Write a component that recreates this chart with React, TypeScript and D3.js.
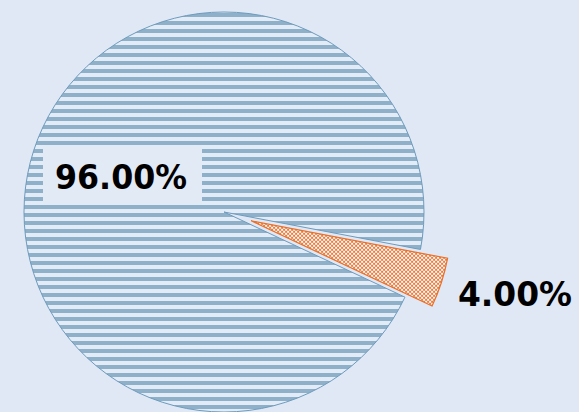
import React from "react";
import * as d3 from "d3";

const categories = ["A", "B"];
const values = [4, 96];
const labels = ["4.00%", "96.00%"];

const W = 579;
const H = 412;
const cx = 224;
const cy = 212;
const R = 200;
const START = (100.8 * Math.PI) / 180;
const EXPLODE = 28.5;

export default function App() {
  const data = categories.map((c, i) => ({ c, v: values[i], label: labels[i] }));
  const pie = d3
    .pie<any>()
    .value((d) => d.v)
    .sort(null)
    .startAngle(START)
    .endAngle(START + 2 * Math.PI);
  const arcs = pie(data);
  const arc = d3.arc<any>().innerRadius(0).outerRadius(R);

  const orange = arcs[0];
  const blue = arcs[1];
  const mid = (orange.startAngle + orange.endAngle) / 2;
  const ox = Math.sin(mid) * EXPLODE;
  const oy = -Math.cos(mid) * EXPLODE;

  return (
    <div style={{ position: "fixed", left: 0, top: 0, width: W, height: H }}>
      <svg width={W} height={H} style={{ display: "block" }}>
        <defs>
          <pattern id="stripes" patternUnits="userSpaceOnUse" x={0} y={1} width={8} height={8}>
            <rect width={8} height={8} fill="#e3ebf6" />
            <rect width={8} height={4} fill="#8fb0c9" />
          </pattern>
          <pattern id="check" patternUnits="userSpaceOnUse" width={4} height={4}>
            <rect width={4} height={4} fill="#f3f6fb" />
            <rect width={2} height={2} fill="#ef7b35" />
            <rect x={2} y={2} width={2} height={2} fill="#ef7b35" />
          </pattern>
        </defs>
        <rect width={W} height={H} fill="#dfe8f4" />
        <g transform={`translate(${cx},${cy})`}>
          <path d={arc(blue) as string} fill="url(#stripes)" stroke="#6e9bbd" strokeWidth={1} />
          <g transform={`translate(${ox},${oy})`}>
            <path d={arc(orange) as string} fill="url(#check)" stroke="#e8702a" strokeWidth={1.2} />
          </g>
        </g>
        <rect x={43} y={145} width={159} height={60} fill="#e2eaf5" />
        <text
          x={55}
          y={189}
          fontFamily="DejaVu Sans"
          fontWeight="bold"
          fontSize={33}
          textLength={132}
          lengthAdjust="spacingAndGlyphs"
          fill="#000"
        >
          {blue.data.label}
        </text>
        <text
          x={458}
          y={306}
          fontFamily="DejaVu Sans"
          fontWeight="bold"
          fontSize={33}
          textLength={114}
          lengthAdjust="spacingAndGlyphs"
          fill="#000"
        >
          {orange.data.label}
        </text>
      </svg>
    </div>
  );
}
